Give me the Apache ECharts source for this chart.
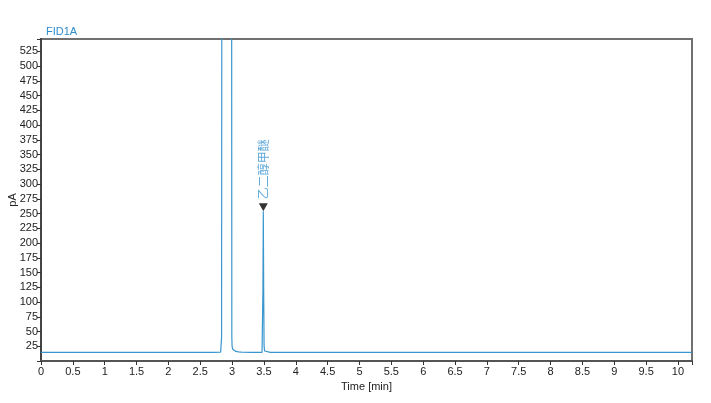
<!DOCTYPE html>
<html>
<head>
<meta charset="utf-8">
<script src="https://cdn.jsdelivr.net/npm/echarts@6/dist/echarts.min.js"></script>
<style>html,body{margin:0;padding:0;background:#fff}#c{width:711px;height:403px}</style>
</head>
<body>
<div id="c"></div>
<script>
// Chromatogram trace
const timeMin = [0, 1, 2, 2.7, 2.82, 2.835, 2.842, 2.99, 2.996, 3.0, 3.01, 3.03, 3.06, 3.1, 3.15, 3.3, 3.47, 3.478, 3.484, 3.49, 3.496, 3.502, 3.51, 3.53, 3.6, 4.2, 5, 6, 7, 8, 9, 10, 10.22];
const signalPA = [14.5, 14.5, 14.5, 14.5, 15, 40, 1200, 1200, 40, 25, 20, 17.5, 16.2, 15.4, 15, 14.6, 14.6, 17, 120, 254, 120, 26, 17, 15, 14.6, 14.7, 14.5, 14.5, 14.5, 14.5, 14.5, 14.5, 14.5];
const peakNames = ['乙二醇甲醚'];
const peakTimes = [3.49];
const peakHeights = [254];
const xTickStep = 0.5;
const yTickStep = 25;

const trace = timeMin.map((t, i) => [t, signalPA[i]]);
const peaks = peakTimes.map((t, i) => ({ value: [t, peakHeights[i]], name: peakNames[i] }));

const chart = echarts.init(document.getElementById('c'));
const font = 'Liberation Sans, Arial, sans-serif';
chart.setOption({
  animation: false,
  title: {
    text: 'FID1A', left: 41, top: 21,
    textStyle: { fontSize: 11, fontWeight: 'normal', color: '#2e8ccf', fontFamily: font }
  },
  grid: { left: 41, top: 39, right: 19, bottom: 42, outerBoundsMode: 'none', containLabel: false, show: true, borderColor: '#707070', borderWidth: 2, backgroundColor: '#fff' },
  xAxis: {
    type: 'value', min: 0, max: 10.22, interval: xTickStep,
    name: 'Time [min]', nameLocation: 'middle', nameGap: 18,
    nameTextStyle: { fontSize: 11, color: '#222', fontFamily: font },
    axisLine: { show: true, lineStyle: { color: '#555', width: 2 } },
    axisTick: { show: true, length: 4, lineStyle: { color: '#333' } },
    axisLabel: {
      fontSize: 11, color: '#222', fontFamily: font, margin: 5,
      formatter: v => (Math.abs(v / xTickStep - Math.round(v / xTickStep)) < 1e-6 && v <= 10) ? String(+v.toFixed(1)) : ''
    },
    splitLine: { show: false }
  },
  yAxis: {
    type: 'value', min: 0, max: 546, interval: yTickStep,
    name: 'pA', nameLocation: 'middle', nameGap: 23, nameMoveOverlap: false,
    nameTextStyle: { fontSize: 11, color: '#222', fontFamily: font },
    axisLine: { show: true, lineStyle: { color: '#444', width: 2 } },
    axisTick: { show: true, length: 4, lineStyle: { color: '#333' } },
    axisLabel: {
      fontSize: 11, color: '#222', fontFamily: font, margin: 3,
      formatter: v => (v > 0 && v % yTickStep === 0) ? String(v) : ''
    },
    splitLine: { show: false }
  },
  series: [
    {
      type: 'line', data: trace, showSymbol: false, symbol: 'none', clip: true,
      lineStyle: { color: '#3a96cf', width: 1.2 }
    },
    {
      type: 'scatter', data: peaks,
      symbol: 'triangle', symbolRotate: 180, symbolSize: [9, 8], symbolOffset: [0, -4],
      itemStyle: { color: '#000' },
      label: {
        show: true, position: 'top', distance: 4, rotate: 90,
        align: 'left', verticalAlign: 'middle',
        formatter: p => p.name,
        fontSize: 12, color: '#3a96cf', fontFamily: 'Noto Sans CJK SC, sans-serif'
      },
      z: 5
    }
  ]
});
</script>
</body>
</html>
